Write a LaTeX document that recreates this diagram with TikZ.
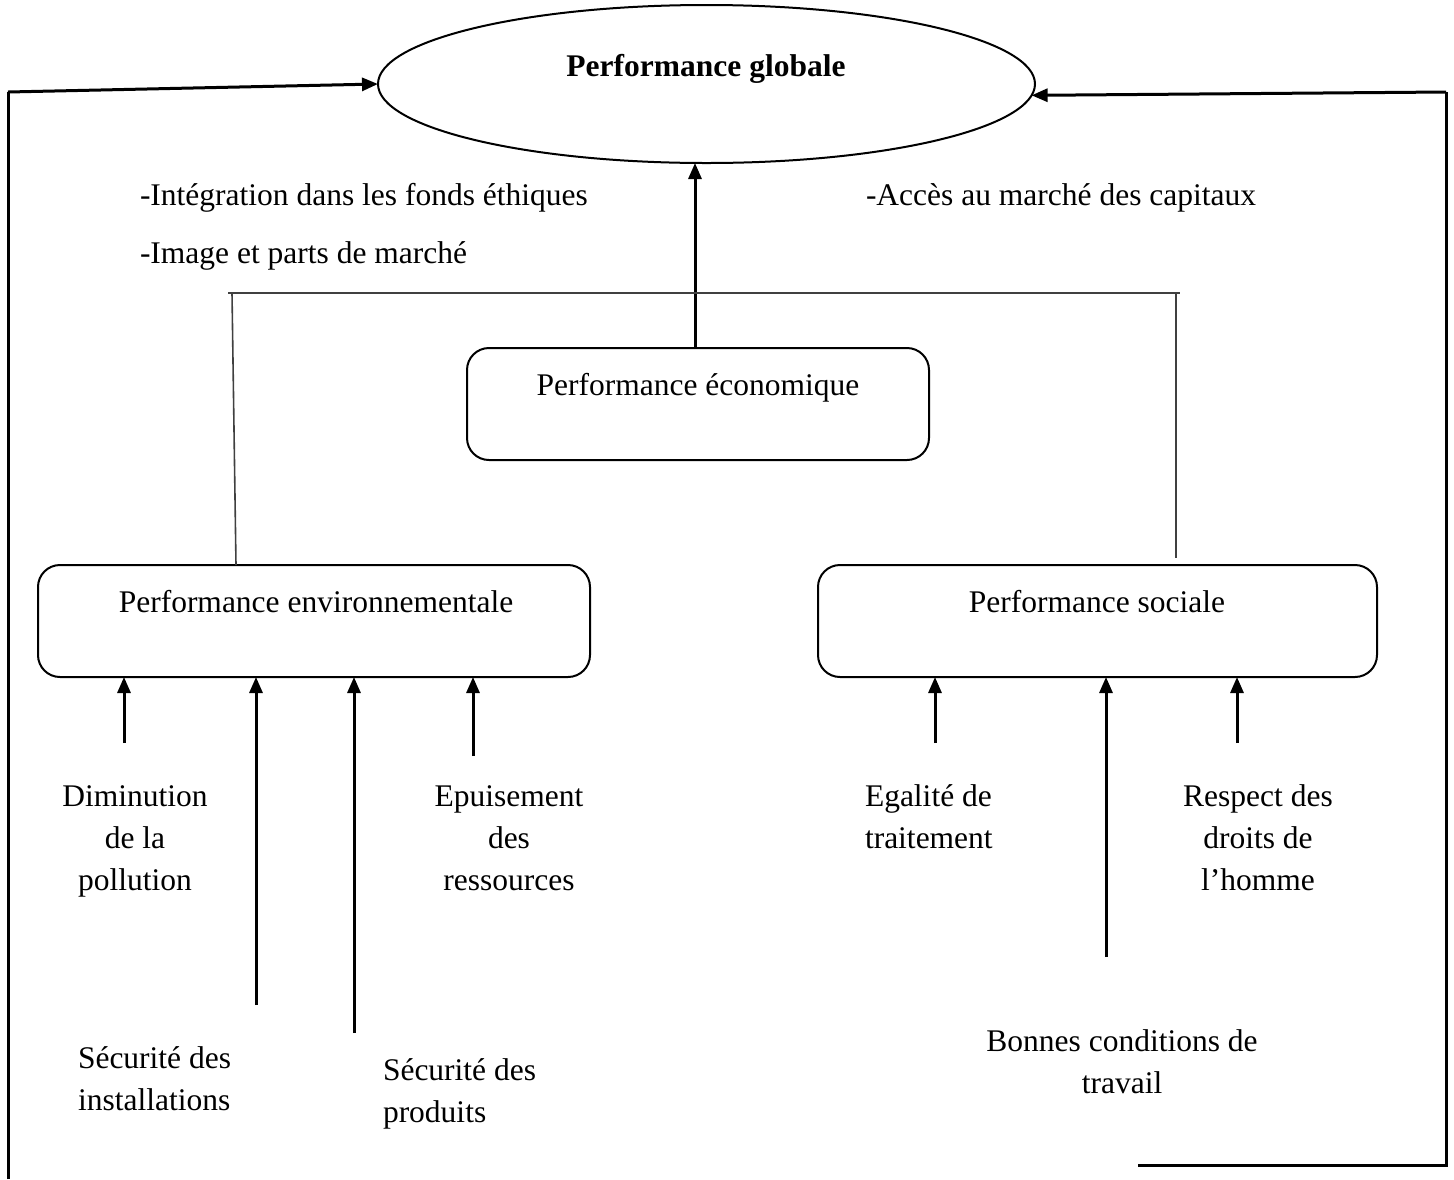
\documentclass[tikz,border=0pt]{standalone}
\usepackage{fontspec}
\setmainfont{Liberation Serif}
\usetikzlibrary{shapes.geometric,arrows.meta}
\begin{document}
\begin{tikzpicture}[x=1pt,y=-1pt,
  every node/.style={font=\fontsize{31.5}{42}\selectfont, inner sep=0pt, outer sep=0pt},
  box/.style={draw, line width=2pt, rounded corners=22pt},
  frame/.style={line width=3pt},
  thin/.style={line width=1.6pt, black!75},
  arr/.style={line width=3pt, -{Triangle[length=16pt,width=13pt]}},
  lbl/.style={anchor=base, align=center},
  lbll/.style={anchor=base west, align=left}]
\useasboundingbox (0,0) rectangle (1454,1179);

% top: global performance
\node[draw, ellipse, line width=2pt, minimum width=657pt, minimum height=158pt] (glob) at (706.5,84) {};
\node[lbl, font=\fontsize{31.5}{42}\selectfont\bfseries] (globt) at (706,76) {Performance globale};

% the three pillars
\node[box, minimum width=462pt, minimum height=112pt] (eco) at (698,404) {};
\node[lbl] (ecot) at (698,395) {Performance économique};
\node[box, minimum width=552pt, minimum height=112pt] (env) at (314,621) {};
\node[lbl] (envt) at (316,612) {Performance environnementale};
\node[box, minimum width=559pt, minimum height=112pt] (soc) at (1097.5,621) {};
\node[lbl] (soct) at (1097,612) {Performance sociale};

% outer frame feeding back to the global performance
\coordinate (fl0) at (8,1179);
\coordinate (fl1) at (8,92);
\draw[frame] (fl0) -- (fl1);
\draw[arr] (fl1) -- (glob.west);
\coordinate (fr0) at (1138,1165);
\coordinate (fr1) at (1446,1165);
\coordinate (fr2) at (1446,92);
\draw[frame] (fr0) -- (fr1) -- (fr2);
\draw[arr] (fr2) -- (glob.358.6);

% economic pillar towards the global performance
\draw[arr] (eco.north -| 695,0) -- (glob.south -| 695,0);

% link between environmental and social pillars
\coordinate (hl) at (228,293);
\coordinate (hr) at (1180,293);
\draw[thin] (hl) -- (hr);
\coordinate (vl) at (232,293);
\draw[thin] (vl) -- (env.north -| 236,0);
\coordinate (vr0) at (1176,293);
\coordinate (vr1) at (1176,558);
\draw[thin] (vr0) -- (vr1);

% benefits
\node[lbll] (b1) at (140,205) {-Intégration dans les fonds éthiques};
\node[lbll] (b2) at (140,263) {-Image et parts de marché};
\node[lbll] (b3) at (866,205) {-Accès au marché des capitaux};

% environmental drivers (labels placed by the baseline of their last line)
\coordinate (e1) at (124,743);
\coordinate (e2) at (256,1005);
\coordinate (e3) at (354,1033);
\coordinate (e4) at (473,756);
\foreach \c in {e1,e2,e3,e4} \draw[arr] (\c) -- (\c |- env.south);
\node[lbl] (t1) at (135,890) {Diminution\\de la\\pollution};
\node[lbl] (t4) at (509,890) {Epuisement\\des\\ressources};
\node[lbll] (t2) at (78,1110) {Sécurité des\\installations};
\node[lbll] (t3) at (383,1122) {Sécurité des\\produits};

% social drivers
\coordinate (s1) at (935,743);
\coordinate (s2) at (1106,957);
\coordinate (s3) at (1237,743);
\foreach \c in {s1,s2,s3} \draw[arr] (\c) -- (\c |- soc.south);
\node[lbll] (u1) at (865,848) {Egalité de\\traitement};
\node[lbl] (u3) at (1258,890) {Respect des\\droits de\\l’homme};
\node[lbl] (u2) at (1122,1093) {Bonnes conditions de\\travail};
\end{tikzpicture}
\end{document}
